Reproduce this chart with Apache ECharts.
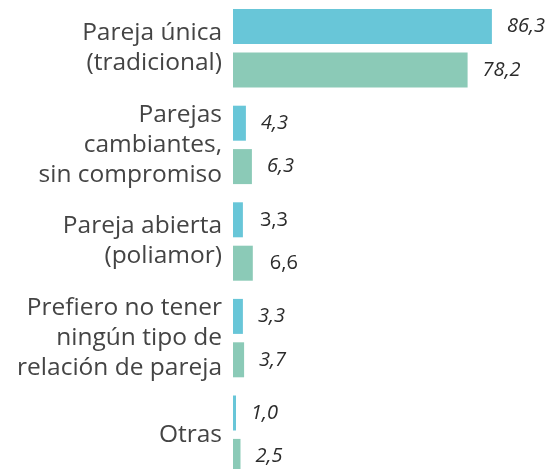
<!DOCTYPE html>
<html>
<head>
<meta charset="utf-8">
<script src="https://cdn.jsdelivr.net/npm/echarts@6/dist/echarts.min.js"></script>
<style>
html,body{margin:0;padding:0;background:#fff;overflow:hidden;}
#chart{width:554px;height:490px;}
</style>
</head>
<body>
<div id="chart"></div>
<script>
var categories = [
  "Pareja única\n(tradicional)",
  "Parejas\ncambiantes,\nsin compromiso",
  "Pareja abierta\n(poliamor)",
  "Prefiero no tener\nningún tipo de\nrelación de pareja",
  "Otras"
];
var serieA = [86.3, 4.3, 3.3, 3.3, 1.0];
var serieB = [78.2, 6.3, 6.6, 3.7, 2.5];
var uprightIndex = 2; // "Pareja abierta" values are shown upright in the reference

var chart = echarts.init(document.getElementById('chart'), null, {renderer: 'canvas'});
function fmt(p){ return p.value.toFixed(1).replace('.', ','); }
function items(arr){
  return arr.map(function(v, i){
    return i === uprightIndex ? {value: v, label: {fontStyle: 'normal', distance: 17}} : v;
  });
}
var labelStyle = {
  show: true,
  position: 'right',
  distance: 15,
  formatter: fmt,
  fontFamily: 'Open Sans',
  fontStyle: 'italic',
  fontSize: 20,
  color: '#2b2b2b'
};
chart.setOption({
  animation: false,
  grid: {left: 233, width: 300, top: -1, height: 484},
  xAxis: {type: 'value', min: 0, max: 100, show: false},
  yAxis: {
    type: 'category',
    data: categories,
    inverse: true,
    axisLine: {show: false},
    axisTick: {show: false},
    splitLine: {show: false},
    axisLabel: {
      margin: 11,
      fontFamily: 'Open Sans',
      fontSize: 24.5,
      lineHeight: 30,
      color: '#444444',
      align: 'right'
    }
  },
  series: [
    {type: 'bar', data: items(serieA), barWidth: 35, barGap: '24%', itemStyle: {color: '#68C6D8'}, label: labelStyle},
    {type: 'bar', data: items(serieB), barWidth: 35, itemStyle: {color: '#8BCAB7'}, label: labelStyle}
  ]
});
</script>
</body>
</html>
